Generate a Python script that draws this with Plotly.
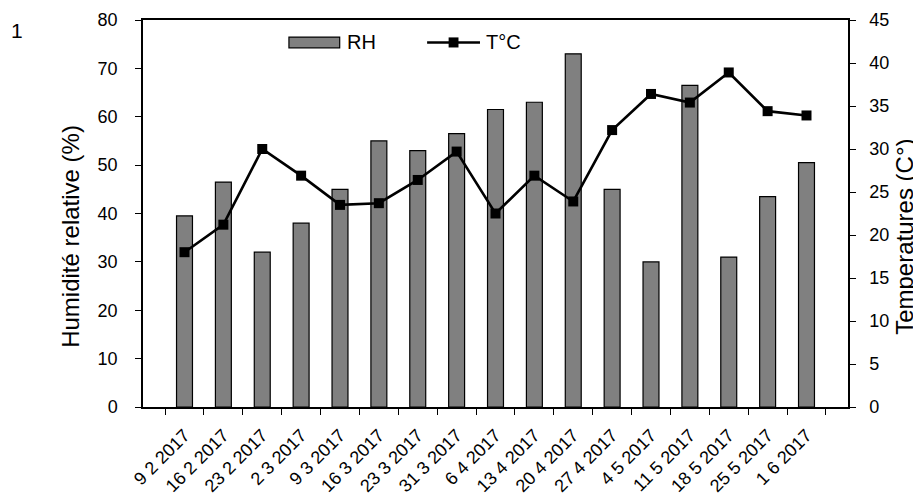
import plotly.graph_objects as go

dates = ["9 2 2017", "16 2 2017", "23 2 2017", "2 3 2017", "9 3 2017", "16 3 2017",
         "23 3 2017", "31 3 2017", "6 4 2017", "13 4 2017", "20 4 2017", "27 4 2017",
         "4 5 2017", "11 5 2017", "18 5 2017", "25 5 2017", "1 6 2017"]
rh = [39.5, 46.5, 32, 38, 45, 55, 53, 56.5, 61.5, 63, 73, 45, 30, 66.5, 31, 43.5, 50.5]
temp = [18.0, 21.2, 30.0, 26.9, 23.5, 23.7, 26.4, 29.7, 22.5, 26.9, 23.9, 32.2, 36.4,
        35.4, 38.9, 34.4, 33.9]

FONT = "Liberation Sans, Arial, sans-serif"
BAR_COLOR = "#808080"

fig = go.Figure()
fig.add_trace(go.Bar(
    x=dates, y=rh, name="RH",
    marker=dict(color=BAR_COLOR, line=dict(color="black", width=1.2)),
))
fig.add_trace(go.Scatter(
    x=dates, y=temp, name="T°C", yaxis="y2", mode="lines+markers",
    line=dict(color="black", width=2.6),
    marker=dict(symbol="square", size=10, color="black"),
))

# page body has an 8px margin, so the figure is sized/offset to compensate
fig.update_layout(
    width=913, height=492,
    margin=dict(l=135, r=73, t=12, b=93),
    paper_bgcolor="white", plot_bgcolor="white",
    font=dict(family=FONT, size=18, color="black"),
    bargap=0.59,
    showlegend=False,
    xaxis=dict(
        type="category", showline=True, linecolor="black", linewidth=1.5, mirror=True,
        ticks="outside", ticklen=6, tickcolor="black", tickwidth=1.2,
        tickson="boundaries", tickangle=-45, showgrid=False, automargin=False,
        tickfont=dict(size=18), ticklabelstandoff=9,
    ),
    yaxis=dict(
        range=[0, 80], dtick=10, showline=True, linecolor="black", linewidth=1.5,
        ticks="outside", ticklen=6, tickcolor="black", showgrid=False, zeroline=False,
        tickfont=dict(size=18), automargin=False, ticklabelstandoff=14,
    ),
    yaxis2=dict(
        range=[0, 45], dtick=5, overlaying="y", side="right", showline=True,
        linecolor="black", linewidth=1.5, ticks="outside", ticklen=6, tickcolor="black",
        showgrid=False, zeroline=False, tickfont=dict(size=18), automargin=False,
        ticklabelstandoff=10,
    ),
)

# axis titles (placed as in the reference, slightly below the plot centre)
fig.add_annotation(text="Humidité relative (%)", xref="paper", yref="paper",
                   x=-0.102, y=0.44, textangle=-90, showarrow=False,
                   xanchor="center", yanchor="middle", font=dict(size=24))
fig.add_annotation(text="Temperatures (C°)", xref="paper", yref="paper",
                   x=1.081, y=0.44, textangle=-90, showarrow=False,
                   xanchor="center", yanchor="middle", font=dict(size=24))

# legend drawn inside the plot like the original
LEG_Y0, LEG_Y1 = 0.928, 0.956
fig.add_shape(type="rect", xref="paper", yref="paper", x0=0.207, x1=0.279,
              y0=LEG_Y0, y1=LEG_Y1, fillcolor=BAR_COLOR,
              line=dict(color="black", width=1.2))
fig.add_annotation(text="RH", xref="paper", yref="paper", x=0.286, y=0.942,
                   xanchor="left", yanchor="middle", showarrow=False,
                   font=dict(size=20))
fig.add_shape(type="line", xref="paper", yref="paper", x0=0.403, x1=0.478,
              y0=0.942, y1=0.942, line=dict(color="black", width=2.6))
fig.add_shape(type="rect", xref="paper", yref="paper", x0=0.4335, x1=0.4475,
              y0=0.929, y1=0.955, fillcolor="black", line=dict(width=0))
fig.add_annotation(text="T°C", xref="paper", yref="paper", x=0.483, y=0.942,
                   xanchor="left", yanchor="middle", showarrow=False,
                   font=dict(size=20))

fig.add_annotation(text="1", xref="paper", yref="paper", x=-0.19, y=1.008,
                   xanchor="left", yanchor="top", showarrow=False, font=dict(size=21))

fig.write_html("out.html")
